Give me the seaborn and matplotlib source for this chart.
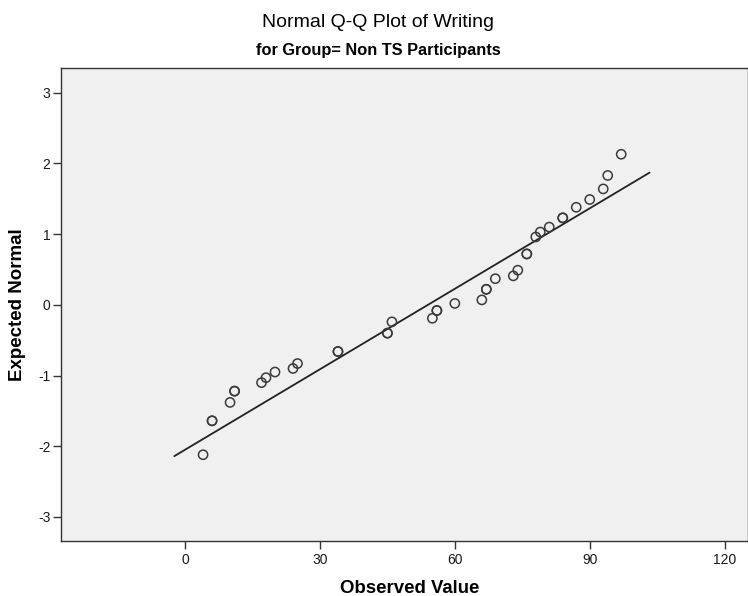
import matplotlib
matplotlib.use("Agg")
import matplotlib.pyplot as plt
import seaborn as sns
import pandas as pd
from matplotlib import font_manager

# ---- data ----
observed = [4, 6, 6, 10, 11, 11, 17, 18, 20, 24, 25, 34, 34, 45, 45, 46,
            55, 56, 56, 60, 66, 67, 67, 69, 73, 74, 76, 76, 78, 79, 81,
            84, 84, 87, 90, 93, 94, 97]
expected = [-2.12, -1.64, -1.64, -1.38, -1.22, -1.22, -1.10, -1.03, -0.95,
            -0.90, -0.83, -0.66, -0.66, -0.40, -0.40, -0.24,
            -0.19, -0.08, -0.08, 0.02, 0.07, 0.22, 0.22, 0.37, 0.41, 0.49,
            0.72, 0.72, 0.96, 1.03, 1.10, 1.23, 1.23, 1.38, 1.49, 1.64,
            1.83, 2.13]
line_x = [-2.4, 103.3]
line_y = [-2.14, 1.87]
x_ticks = [0, 30, 60, 90, 120]
y_ticks = [-3, -2, -1, 0, 1, 2, 3]
title = "Normal Q-Q Plot of Writing"
subtitle = "for Group= Non TS Participants"
x_label = "Observed Value"
y_label = "Expected Normal"

sns.set_theme(style="white")
names = {f.name for f in font_manager.fontManager.ttflist}
fam = [f for f in ["Liberation Sans Narrow", "Liberation Sans", "DejaVu Sans"] if f in names]
plt.rcParams["font.family"] = fam
plt.rcParams["text.color"] = "black"

df = pd.DataFrame({"Observed": observed, "Expected": expected})
lines = pd.DataFrame({"x": line_x, "y": line_y})

W, H = 748, 596
fig = plt.figure(figsize=(W / 100, H / 100), dpi=100)
ax = fig.add_axes([61 / W, 1 - 541 / H, 687 / W, (541 - 68) / H])
ax.set_facecolor("#f0f0f0")

sns.lineplot(data=lines, x="x", y="y", ax=ax, color="#222222", linewidth=1.3)
sns.scatterplot(data=df, x="Observed", y="Expected", ax=ax, s=44,
                facecolors="none", edgecolor="#3a3a3a", linewidth=1.1,
                marker="o", zorder=3)

ax.set_xlim(-27.6, 125.2)
ax.set_ylim(-3.34, 3.35)
ax.set_xticks(x_ticks)
ax.set_yticks(y_ticks)
ax.set_xticklabels([str(t) for t in x_ticks], fontsize=10, color="#1a1a1a")
ax.set_yticklabels([str(t) for t in y_ticks], fontsize=10, color="#1a1a1a")
ax.tick_params(axis="x", direction="out", length=6, width=1,
               color="#333333", bottom=True, pad=3)
ax.tick_params(axis="y", direction="out", length=6, width=1,
               color="#333333", left=True, pad=1.5)
ax.set_xlabel("")
ax.set_ylabel("")
for side in ["left", "bottom", "top", "right"]:
    ax.spines[side].set_color("#333333")
    ax.spines[side].set_linewidth(1.0)

fig.text(378 / W, 1 - 27 / H, title, ha="center", va="baseline", fontsize=14,
         color="black")
fig.text(378 / W, 1 - 55 / H, subtitle, ha="center", va="baseline",
         fontsize=11.8, fontweight="bold", color="black")
fig.text(410 / W, 1 - 593 / H, x_label, ha="center", va="baseline",
         fontsize=13.4, fontweight="bold", color="black")
fig.text(18 / W, 1 - 305 / H, y_label, ha="center", va="center",
         fontsize=13.5, fontweight="bold", rotation=90, color="black")

fig.savefig("out.png", dpi=100, facecolor="white")
